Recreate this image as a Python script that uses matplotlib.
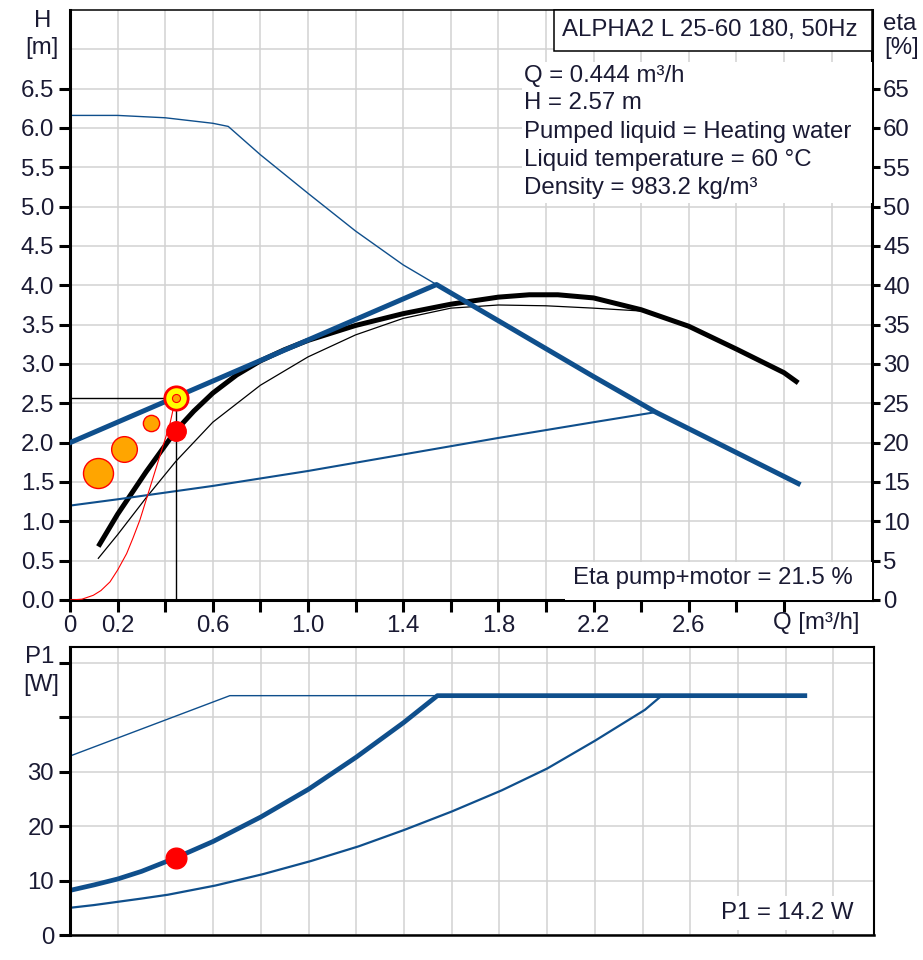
import numpy as np
import matplotlib
matplotlib.use("Agg")
import matplotlib.pyplot as plt
from matplotlib.patches import Rectangle

plt.rcParams['font.family'] = ['Liberation Sans', 'DejaVu Sans']
plt.rcParams['font.size'] = 17.3

BLUE = '#0f4f8c'
TXT = '#1a1a33'
GRID = '#d2d2d2'

# duty point
duty_q = 0.444
duty_h = 2.57
duty_eta = 21.5
duty_p1 = 14.2

# H-Q curves [m3/h, m]
max_q = [0, 0.2, 0.4, 0.6, 0.665, 0.8, 1.0, 1.2, 1.4, 1.54, 2.2, 2.46, 3.06]
max_h = [6.16, 6.16, 6.13, 6.06, 6.02, 5.66, 5.17, 4.69, 4.26, 4.01, 2.84, 2.39, 1.48]
min_q = [0, 0.2, 0.6, 1.0, 1.4, 1.8, 2.2, 2.465]
min_h = [1.20, 1.28, 1.45, 1.64, 1.85, 2.06, 2.26, 2.39]
set_q = [0, 1.54, 1.8, 2.2, 2.46, 3.06]
set_h = [2.0, 4.01, 3.55, 2.84, 2.39, 1.48]

# system curve through the duty point
sys_q = [0, 0.05, 0.098, 0.13, 0.168, 0.2, 0.238, 0.265, 0.294, 0.329, 0.364,
         0.392, 0.420, 0.444]
sys_h = [0, 0.01, 0.06, 0.12, 0.23, 0.38, 0.59, 0.79, 1.02, 1.36, 1.70,
         1.97, 2.24, 2.57]

# efficiency curves [%]
eta_q = [0.119, 0.2, 0.32, 0.444, 0.52, 0.6, 0.7, 0.8, 0.9, 1.0, 1.2, 1.4, 1.6, 1.8,
         1.93, 2.05, 2.2, 2.4, 2.6, 2.8, 3.0, 3.06]
eta_v = [6.8, 10.9, 16.3, 21.5, 24.0, 26.3, 28.6, 30.4, 31.8, 33.0, 34.9, 36.4, 37.6, 38.5,
         38.8, 38.8, 38.4, 36.9, 34.8, 31.9, 28.9, 27.6]
eta2_q = [0.119, 0.2, 0.32, 0.444, 0.6, 0.8, 1.0, 1.2, 1.4, 1.6, 1.8, 2.0, 2.2, 2.42]
eta2_v = [5.3, 8.3, 13.0, 17.6, 22.6, 27.3, 30.9, 33.7, 35.8, 37.1, 37.5, 37.4, 37.1, 36.7]

# earlier operating points
hist_q = [0.119, 0.228, 0.339]
hist_h = [1.61, 1.92, 2.25]
hist_ms = [21.6, 18.5, 11.7]

# P1 curves [W]
p_set_q = [0, 0.1, 0.2, 0.3, 0.444, 0.6, 0.8, 1.0, 1.2, 1.4, 1.54, 3.08]
p_set_v = [8.2, 9.2, 10.3, 11.7, 14.2, 17.2, 21.7, 26.8, 32.7, 39.1, 44.0, 44.0]
p_max_q = [0, 0.67, 1.54]
p_max_v = [32.9, 44.0, 44.0]
p_min_q = [0, 0.1, 0.2, 0.3, 0.41, 0.61, 0.81, 1.01, 1.21, 1.40, 1.60, 1.81, 2.0,
           2.2, 2.41, 2.48]
p_min_v = [5.0, 5.5, 6.1, 6.7, 7.4, 9.1, 11.2, 13.6, 16.3, 19.3, 22.7, 26.6, 30.6,
           35.7, 41.4, 44.0]

q_ticks = np.round(np.arange(0, 3.01, 0.2), 1)
q_labels = ['0', '0.2', '', '0.6', '', '1.0', '', '1.4', '', '1.8', '', '2.2', '', '2.6', '', '']
q_grid = np.round(np.arange(0.2, 3.3, 0.2), 1)

W, H = 923, 960
fig = plt.figure(figsize=(W / 100, H / 100), dpi=100)

# ---------- H / eta chart ----------
ax = fig.add_axes([70 / W, 1 - 600 / H, 802 / W, 590 / H])
ax_eta = ax.twinx()
ax.set_zorder(ax_eta.get_zorder() + 1)
ax.patch.set_visible(False)
ax_eta.patch.set_visible(True)
ax_eta.patch.set_facecolor('white')

ax.set_xlim(0, 3.37)
ax.set_ylim(0, 7.5)
ax_eta.set_ylim(0, 75)

for q in q_grid:
    ax_eta.axvline(q, color=GRID, lw=1.1, zorder=0)
for e in range(5, 75, 5):
    ax_eta.axhline(e, color=GRID, lw=1.1, zorder=0)

ax_eta.plot(eta2_q, eta2_v, color='black', lw=0.9, zorder=2)
ax_eta.plot(eta_q, eta_v, color='black', lw=3.6, zorder=3, solid_capstyle='butt')

ax.plot(max_q, max_h, color=BLUE, lw=1.0, zorder=2)
ax.plot(min_q, min_h, color=BLUE, lw=1.5, zorder=2)
ax.plot(set_q, set_h, color=BLUE, lw=3.6, zorder=3)
ax.plot(sys_q, sys_h, color='red', lw=0.8, zorder=3)
ax.plot([0, duty_q], [duty_h, duty_h], color='black', lw=1.0, zorder=3)
ax.plot([duty_q, duty_q], [0, duty_h], color='black', lw=1.0, zorder=3)
# efficiency at the duty point, on the eta scale
ax.plot(duty_q, duty_eta, 'o', ms=14, color='red', zorder=4,
        transform=ax_eta.transData)
for q, h, ms in zip(hist_q, hist_h, hist_ms):
    ax.plot(q, h, 'o', ms=ms, mfc='#ffa500', mec='red', mew=1.0, zorder=4)
ax.plot(duty_q, duty_h, 'o', ms=16.8, mfc='#ffff00', mec='red', mew=2.0, zorder=5)
ax.plot(duty_q, duty_h, 'o', ms=5.8, mfc='#ffa500', mec='red', mew=0.8, zorder=6)

for s in ['left', 'bottom']:
    ax.spines[s].set_linewidth(2.2)
ax.spines['top'].set_linewidth(1.1)
ax.spines['right'].set_visible(False)
for s in ['left', 'bottom', 'top']:
    ax_eta.spines[s].set_visible(False)
ax_eta.spines['right'].set_linewidth(2.2)

ax.set_xticks(q_ticks)
ax.set_xticklabels(q_labels)
ax.set_yticks(np.arange(0, 6.51, 0.5))
ax.set_yticklabels([f'{v:.1f}' for v in np.arange(0, 6.51, 0.5)])
ax.tick_params(axis='x', direction='out', length=8.5, width=2.2, pad=2, labelcolor=TXT)
ax.tick_params(axis='y', direction='out', length=8, width=2.2, pad=3.5, labelcolor=TXT)
ax_eta.set_yticks(range(0, 70, 5))
ax_eta.tick_params(axis='y', direction='out', length=6, width=2.2, pad=2, labelcolor=TXT)

ax.text(2.955, -0.039, 'Q [m³/h]', transform=ax.get_xaxis_transform(),
        ha='left', va='center', color=TXT)

# title box and fluid info
ax.add_patch(Rectangle((0.6035, 0.9305), 0.3965, 0.0695, transform=ax.transAxes,
                       fc='white', ec='black', lw=1.1, zorder=7, clip_on=False))
ax.text(0.798, 0.966, 'ALPHA2 L 25-60 180, 50Hz', transform=ax.transAxes,
        ha='center', va='center', color=TXT, zorder=8)
ax.add_patch(Rectangle((0.5636, 0.673), 0.4364, 0.239, transform=ax.transAxes,
                       fc='white', ec='none', zorder=7))
info = [f'Q = {duty_q:.3f} m³/h', f'H = {duty_h:.2f} m',
        'Pumped liquid = Heating water', 'Liquid temperature = 60 °C',
        'Density = 983.2 kg/m³']
for yy, line in zip([0.888, 0.842, 0.794, 0.746, 0.698], info):
    ax.text(0.566, yy, line, transform=ax.transAxes, ha='left', va='center',
            color=TXT, zorder=8)
ax.add_patch(Rectangle((0.617, 0.0), 0.383, 0.064, transform=ax.transAxes,
                       fc='white', ec='none', zorder=7))
ax.text(0.976, 0.037, f'Eta pump+motor = {duty_eta} %', transform=ax.transAxes,
        ha='right', va='center', color=TXT, zorder=8)

fig.text(43 / W, 1 - 21 / H, 'H', ha='center', va='center', color=TXT)
fig.text(42 / W, 1 - 48 / H, '[m]', ha='center', va='center', color=TXT)
fig.text(900 / W, 1 - 24 / H, 'eta', ha='center', va='center', color=TXT)
fig.text(902 / W, 1 - 48 / H, '[%]', ha='center', va='center', color=TXT)

# ---------- P1 chart ----------
pb = fig.add_axes([70 / W, 1 - 935 / H, 804 / W, 288.3 / H])
pb.set_xlim(0, 3.37)
pb.set_ylim(0, 53)
pb.set_axisbelow(True)
pb.set_xticks(q_grid)
pb.tick_params(axis='x', length=0, labelbottom=False)
pb.set_yticks([0, 10, 20, 30, 40, 50])
pb.set_yticklabels(['0', '10', '20', '30', '', ''])
pb.tick_params(axis='y', direction='out', length=8, width=2.2, pad=3.5, labelcolor=TXT)
pb.grid(True, color=GRID, lw=1.1)

pb.plot(p_max_q, p_max_v, color=BLUE, lw=1.0)
pb.plot(p_min_q, p_min_v, color=BLUE, lw=1.6)
pb.plot(p_set_q, p_set_v, color=BLUE, lw=3.4)
pb.plot(duty_q, duty_p1, 'o', ms=14.9, color='red', zorder=5)

pb.spines['left'].set_linewidth(2.2)
pb.spines['bottom'].set_linewidth(1.8)
pb.spines['top'].set_linewidth(1.5)
pb.spines['right'].set_linewidth(1.5)

pb.text(0.974, 0.076, f'P1 = {duty_p1} W', transform=pb.transAxes, ha='right',
        va='center', color=TXT, zorder=6,
        bbox=dict(boxstyle='square,pad=0.25', fc='white', ec='none'))

fig.text(40 / W, 1 - 657 / H, 'P1', ha='center', va='center', color=TXT)
fig.text(41 / W, 1 - 685 / H, '[W]', ha='center', va='center', color=TXT)

fig.savefig('out.png', dpi=100)
